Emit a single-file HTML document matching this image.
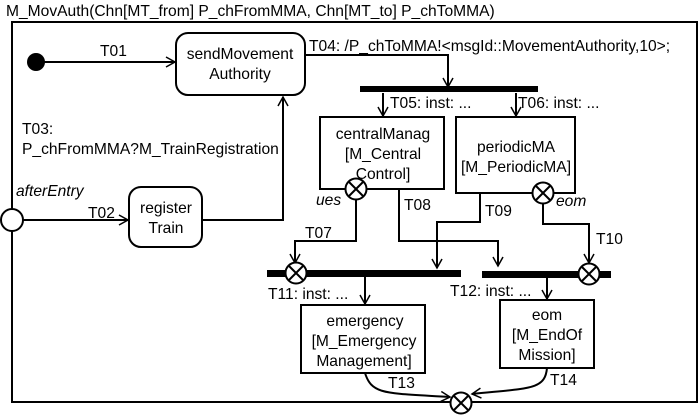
<!DOCTYPE html>
<html><head><style>
body{margin:0;background:#fff;}
svg{display:block;font-family:"Liberation Sans",sans-serif;font-size:15.6px;}
</style></head><body>
<svg width="699" height="415" viewBox="0 0 699 415">
<defs>
<marker id="a" markerWidth="12" markerHeight="12" refX="10" refY="6" orient="auto" markerUnits="userSpaceOnUse">
<path d="M1,1 L10,6 L1,11" fill="none" stroke="#000" stroke-width="1.5"/></marker>
<g id="x"><circle r="10.5" fill="#fff" stroke="#000" stroke-width="2"/><path d="M-7,-7L7,7M7,-7L-7,7" stroke="#000" stroke-width="2"/></g>
</defs>
<text x="6" y="16">M_MovAuth(Chn[MT_from] P_chFromMMA, Chn[MT_to] P_chToMMA)</text>
<rect x="12" y="22" width="685" height="380" fill="none" stroke="#000" stroke-width="2"/>
<g fill="none" stroke="#000" stroke-width="2">
<rect x="176" y="33" width="129" height="62" rx="12"/>
<rect x="129" y="187" width="73" height="60" rx="12"/>
<rect x="320" y="117" width="124" height="72"/>
<rect x="456" y="117" width="119" height="76"/>
<rect x="301" y="305" width="124" height="68"/>
<rect x="500" y="300" width="94" height="68"/>
<path d="M36,62H175" marker-end="url(#a)"/>
<path d="M23,220H128" marker-end="url(#a)"/>
<path d="M202,220H283V97" marker-end="url(#a)"/>
<path d="M305,55H448V87" marker-end="url(#a)"/>
<path d="M383,93V116" marker-end="url(#a)"/>
<path d="M516,93V116" marker-end="url(#a)"/>
<path d="M356,195V241H295V263" marker-end="url(#a)"/>
<path d="M399,189V241H498V266" marker-end="url(#a)"/>
<path d="M480,193V222H437V268" marker-end="url(#a)"/>
<path d="M543,198V224H589V263" marker-end="url(#a)"/>
<path d="M365,276V304" marker-end="url(#a)"/>
<path d="M547,277V299" marker-end="url(#a)"/>
<path d="M365,373C372,395 385,393 450,397" marker-end="url(#a)"/>
<path d="M547,368C545,390 530,388 472,394" marker-end="url(#a)"/>
</g>
<rect x="360" y="86" width="178" height="6" fill="#000"/>
<rect x="267" y="270" width="194" height="7" fill="#000"/>
<rect x="482" y="271" width="129" height="7" fill="#000"/>
<circle cx="36" cy="62" r="9" fill="#000"/>
<circle cx="12" cy="220" r="11" fill="#fff" stroke="#000" stroke-width="2"/>
<use href="#x" x="356" y="189"/>
<use href="#x" x="543" y="193"/>
<use href="#x" x="296" y="273"/>
<use href="#x" x="589" y="274"/>
<use href="#x" x="461" y="403"/>
<g text-anchor="middle">
<text x="240" y="59">sendMovement</text><text x="240" y="79">Authority</text>
<text x="166" y="213">register</text><text x="166" y="233">Train</text>
<text x="383" y="139">centralManag</text><text x="383" y="159">[M_Central</text><text x="383" y="179">Control]</text>
<text x="516" y="152">periodicMA</text><text x="516" y="172">[M_PeriodicMA]</text>
<text x="365" y="326">emergency</text><text x="364" y="346">[M_Emergency</text><text x="364" y="366">Management]</text>
<text x="547" y="320">eom</text><text x="547" y="340">[M_EndOf</text><text x="547" y="360">Mission]</text>
</g>
<text x="100" y="56">T01</text>
<text x="88" y="218">T02</text>
<text x="22" y="134">T03:</text>
<text x="22" y="154">P_chFromMMA?M_TrainRegistration</text>
<text x="16" y="196" font-style="italic">afterEntry</text>
<text x="309" y="51">T04: /P_chToMMA!&lt;msgId::MovementAuthority,10&gt;;</text>
<text x="390" y="108">T05: inst: ...</text>
<text x="518" y="108">T06: inst: ...</text>
<text x="316" y="205" font-style="italic">ues</text>
<text x="556" y="206" font-style="italic">eom</text>
<text x="404" y="210">T08</text>
<text x="485" y="216">T09</text>
<text x="305" y="238">T07</text>
<text x="596" y="244">T10</text>
<text x="268" y="299">T11: inst: ...</text>
<text x="450" y="296">T12: inst: ...</text>
<text x="388" y="388">T13</text>
<text x="550" y="385">T14</text>
</svg>
</body></html>
